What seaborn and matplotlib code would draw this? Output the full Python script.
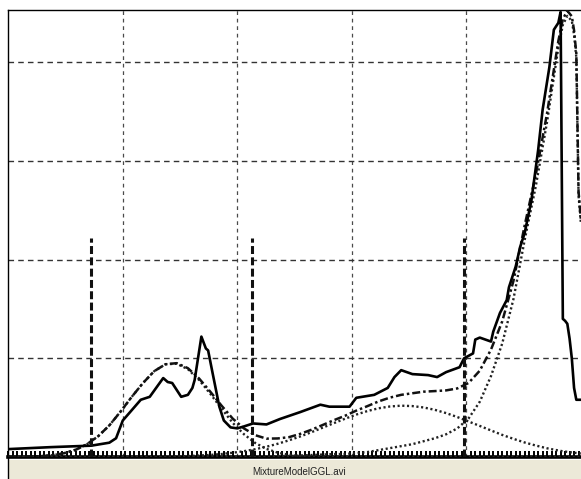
import matplotlib
matplotlib.use("Agg")
import matplotlib.pyplot as plt
from matplotlib.patches import Rectangle
from matplotlib.lines import Line2D
import pandas as pd
import seaborn as sns

# Observed grey-level histogram (bin -> normalised count)
data_bins = [0, 19, 37, 45, 48, 51, 59, 63, 69, 71, 73, 77, 80, 82, 83,
             86, 88, 89, 91, 94, 96, 99, 102, 105, 109, 115, 121, 130, 139, 143,
             152, 155, 163, 169, 172, 175, 180, 187, 191, 195, 201, 203, 207, 208, 210,
             215, 216, 219, 222, 223, 226, 228, 230, 233, 236, 238, 241, 243, 245, 246,
             247, 248, 249, 250, 251, 252, 253, 254, 255]
data_vals = [0.08, 0.10, 0.115, 0.145, 0.19, 0.37, 0.58, 0.61, 0.80, 0.76, 0.75, 0.61, 0.63, 0.70, 0.78,
             1.22, 1.10, 1.08, 0.85, 0.51, 0.37, 0.30, 0.29, 0.31, 0.34, 0.33, 0.385, 0.455, 0.53, 0.51,
             0.51, 0.60, 0.63, 0.70, 0.81, 0.88, 0.84, 0.83, 0.81, 0.86, 0.91, 1.00, 1.05, 1.19, 1.21,
             1.17, 1.27, 1.46, 1.59, 1.72, 1.93, 2.13, 2.27, 2.60, 3.11, 3.52, 3.95, 4.33, 4.40, 4.51,
             1.40, 1.38, 1.35, 1.20, 1.00, 0.70, 0.58, 0.58, 0.58]

# Fitted mixture: bins shared by the three components and their sum
model_bins = [0, 5, 10, 15, 20, 25, 30, 35, 40, 45, 50, 55, 60, 65, 70,
              75, 80, 85, 90, 95, 100, 105, 110, 115, 120, 125, 130, 135, 140, 145,
              150, 155, 160, 165, 170, 175, 180, 185, 190, 195, 200, 205, 210, 215, 220,
              225, 230, 235, 240, 245, 247, 249, 251, 252, 253, 254, 255]
comp_dark = [0.0, 0.0, 0.004, 0.009, 0.019, 0.039, 0.073, 0.129, 0.21, 0.32, 0.46, 0.61, 0.75, 0.87, 0.94,
             0.945, 0.89, 0.78, 0.64, 0.49, 0.345, 0.23, 0.142, 0.082, 0.044, 0.022, 0.011, 0.005, 0.002, 0.0,
             0.0, 0.0, 0.0, 0.0, 0.0, 0.0, 0.0, 0.0, 0.0, 0.0, 0.0, 0.0, 0.0, 0.0, 0.0,
             0.0, 0.0, 0.0, 0.0, 0.0, 0.0, 0.0, 0.0, 0.0, 0.0, 0.0, 0.0]
comp_mid = [0.0, 0.0, 0.0, 0.0, 0.0, 0.0, 0.0, 0.0, 0.0, 0.0, 0.0, 0.0, 0.0, 0.0, 0.0,
            0.006, 0.01, 0.015, 0.021, 0.03, 0.043, 0.059, 0.079, 0.104, 0.134, 0.169, 0.208, 0.251, 0.297, 0.343,
            0.388, 0.43, 0.466, 0.494, 0.512, 0.52, 0.516, 0.502, 0.478, 0.445, 0.405, 0.36, 0.315, 0.269, 0.224,
            0.184, 0.147, 0.116, 0.088, 0.066, 0.058, 0.052, 0.046, 0.043, 0.041, 0.038, 0.035]
comp_bright = [0.0, 0.0, 0.0, 0.0, 0.0, 0.0, 0.0, 0.0, 0.0, 0.0, 0.0, 0.0, 0.0, 0.0, 0.0,
               0.0, 0.0, 0.0, 0.0, 0.0, 0.0, 0.0, 0.0, 0.0, 0.01, 0.01, 0.015, 0.02, 0.025, 0.03,
               0.03, 0.04, 0.05, 0.07, 0.09, 0.11, 0.13, 0.16, 0.19, 0.23, 0.29, 0.39, 0.56, 0.82, 1.15,
               1.6, 2.2, 2.75, 3.4, 4.15, 4.38, 4.47, 4.42, 4.28, 4.05, 2.65, 2.38]
mixture = [0.0, 0.0, 0.004, 0.009, 0.019, 0.039, 0.073, 0.129, 0.21, 0.32, 0.46, 0.61, 0.75, 0.87, 0.94,
           0.951, 0.90, 0.795, 0.661, 0.52, 0.388, 0.289, 0.221, 0.186, 0.188, 0.201, 0.234, 0.276, 0.324, 0.373,
           0.418, 0.47, 0.516, 0.564, 0.602, 0.63, 0.646, 0.662, 0.668, 0.675, 0.695, 0.75, 0.875, 1.089, 1.374,
           1.784, 2.347, 2.866, 3.488, 4.216, 4.438, 4.522, 4.466, 4.323, 4.091, 2.688, 2.415]

# Segmentation thresholds between the classes
thresholds = [36.7, 108.7, 203.0]
threshold_height = 2.22

grid_x = [51, 102, 153, 204]
grid_y = [1, 2, 3, 4]
file_label = "MixtureModelGGL.avi"

sns.set_theme(style="white")
plt.rcParams["font.family"] = ["Liberation Sans", "DejaVu Sans"]

W, H = 581, 479
fig = plt.figure(figsize=(W / 100, H / 100), dpi=100)
fig.patch.set_facecolor("white")

x0, x1, y_top, y_bot = 8.3, 580.8, 10.0, 457.0
ax = fig.add_axes([x0 / W, 1 - y_bot / H, (x1 - x0) / W, (y_bot - y_top) / H])
ax.set_facecolor("white")

# grid
for gx in grid_x:
    ax.axvline(gx, color="#4a4a4a", lw=0.9, ls=(0, (3, 3)), zorder=1)
for gy in grid_y:
    ax.axhline(gy, color="#333333", lw=1.0, ls=(0, (4, 3)), zorder=1)

comp_df = pd.DataFrame({"bin": model_bins, "dark": comp_dark, "mid": comp_mid,
                        "bright": comp_bright, "mixture": mixture})
data_df = pd.DataFrame({"bin": data_bins, "count": data_vals})

for col in ["dark", "mid", "bright"]:
    sns.lineplot(data=comp_df, x="bin", y=col, ax=ax, color="#222222",
                 lw=1.7, linestyle=(0, (0.9, 1.1)), zorder=3)
sns.lineplot(data=comp_df, x="bin", y="mixture", ax=ax, color="#111111",
             lw=1.8, linestyle=(0, (3.2, 1.2, 1.0, 1.2)), zorder=4)
sns.lineplot(data=data_df, x="bin", y="count", ax=ax, color="black",
             lw=1.9, zorder=5)

ax.vlines(thresholds, 0, threshold_height, colors="#111111", lw=2.2,
          linestyles=[(0, (2.6, 1.1))], zorder=6)

ax.set_xlim(0, 255)
ax.set_ylim(0, 4.53)
ax.set_xlabel("")
ax.set_ylabel("")
ax.set_xticks(grid_x)
ax.set_yticks(grid_y)
ax.set_xticklabels([])
ax.set_yticklabels([])
ax.set_xticks([b for b in range(0, 256, 2)], minor=True)
ax.tick_params(axis="both", which="major", length=0)
ax.tick_params(axis="x", which="minor", direction="in", length=4, width=1.4,
               color="black", bottom=True, top=False)
ax.grid(False)

for side in ["left", "top"]:
    ax.spines[side].set_visible(True)
    ax.spines[side].set_color("black")
    ax.spines[side].set_linewidth(1.0)
ax.spines["right"].set_visible(False)
ax.spines["bottom"].set_color("black")
ax.spines["bottom"].set_linewidth(2.6)

# status strip with the file name
fig.patches.append(Rectangle((x0 / W, 0), 1 - x0 / W, (H - 459.5) / H,
                             transform=fig.transFigure, facecolor="#ECE9D8",
                             edgecolor="none", zorder=0))
fig.lines.append(Line2D([x0 / W, x0 / W], [0, (H - 457) / H],
                        transform=fig.transFigure, color="black", lw=1.0))
fig.text(299 / W, 1 - 472 / H, file_label, ha="center", va="center",
         fontsize=7, color="#222222")

fig.savefig("out.png", dpi=100)
